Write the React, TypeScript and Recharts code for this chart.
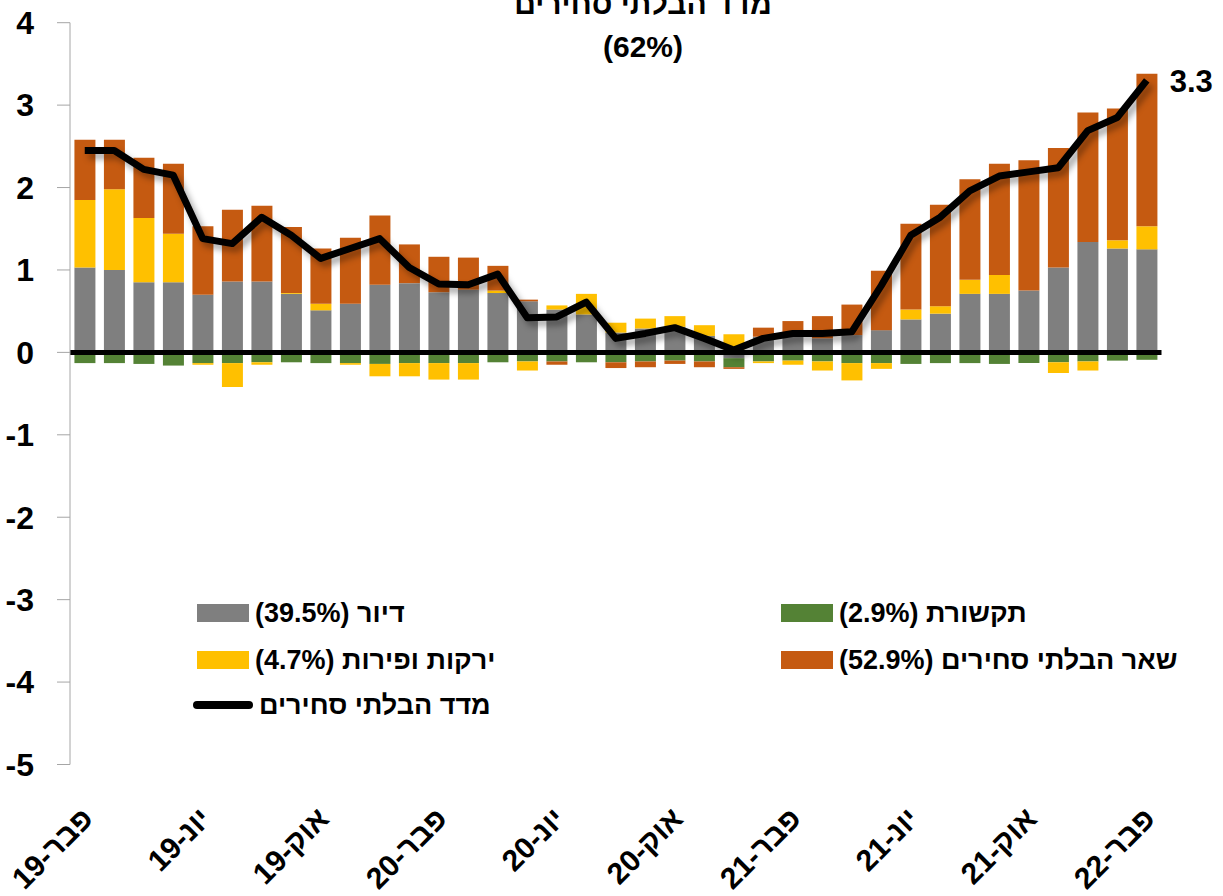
import React from "react";
import {
  ComposedChart,
  Bar,
  Line,
  XAxis,
  YAxis,
  ReferenceLine,
} from "recharts";

const FONT = "'Liberation Sans', Arial, sans-serif";

// months, Feb-19 .. Feb-22
const months = [
  "פבר-19", "מרץ-19", "אפר-19", "מאי-19", "יונ-19", "יול-19", "אוג-19", "ספט-19", "אוק-19", "נוב-19", "דצמ-19",
  "ינו-20", "פבר-20", "מרץ-20", "אפר-20", "מאי-20", "יונ-20", "יול-20", "אוג-20", "ספט-20", "אוק-20", "נוב-20", "דצמ-20",
  "ינו-21", "פבר-21", "מרץ-21", "אפר-21", "מאי-21", "יונ-21", "יול-21", "אוג-21", "ספט-21", "אוק-21", "נוב-21", "דצמ-21",
  "ינו-22", "פבר-22",
];

// contributions to the index (percentage points)
const housing = [
  1.03, 1.0, 0.85, 0.85, 0.7, 0.86, 0.86, 0.71, 0.51, 0.59, 0.82,
  0.84, 0.73, 0.76, 0.72, 0.62, 0.52, 0.46, 0.24, 0.29, 0.31, 0.2, -0.07,
  0.19, 0.23, 0.17, 0.21, 0.27, 0.4, 0.47, 0.71, 0.71, 0.75, 1.03, 1.34,
  1.26, 1.25,
];
const telecom = [
  -0.13, -0.13, -0.14, -0.16, -0.13, -0.13, -0.12, -0.12, -0.13, -0.13, -0.14,
  -0.13, -0.13, -0.13, -0.12, -0.11, -0.11, -0.12, -0.12, -0.11, -0.1, -0.11, -0.11,
  -0.11, -0.1, -0.11, -0.13, -0.13, -0.14, -0.13, -0.13, -0.14, -0.13, -0.12, -0.11,
  -0.1, -0.09,
];
const produce = [
  0.82, 0.98, 0.78, 0.59, -0.02, -0.29, -0.03, 0.01, 0.08, -0.02, -0.15,
  -0.16, -0.2, -0.2, 0.03, -0.11, 0.05, 0.25, 0.12, 0.12, 0.13, 0.13, 0.22,
  -0.02, -0.05, -0.11, -0.21, -0.07, 0.12, 0.09, 0.17, 0.23, 0, -0.13, -0.11,
  0.1, 0.28,
];
const otherNonTradable = [
  0.73, 0.6, 0.73, 0.85, 0.83, 0.87, 0.92, 0.8, 0.67, 0.8, 0.84,
  0.47, 0.43, 0.39, 0.3, 0.02, -0.04, 0, -0.07, -0.07, -0.04, -0.07, -0.02,
  0.11, 0.15, 0.27, 0.37, 0.72, 1.04, 1.23, 1.22, 1.35, 1.58, 1.45, 1.57,
  1.6, 1.85,
];
const nonTradableIndex = [
  2.45, 2.45, 2.22, 2.15, 1.38, 1.32, 1.64, 1.42, 1.14, 1.26, 1.38,
  1.03, 0.83, 0.82, 0.95, 0.42, 0.43, 0.61, 0.17, 0.23, 0.3, 0.17, 0.03,
  0.17, 0.23, 0.23, 0.25, 0.81, 1.42, 1.64, 1.96, 2.14, 2.19, 2.24, 2.69,
  2.85, 3.3,
];

const yTicks = [-5, -4, -3, -2, -1, 0, 1, 2, 3, 4];

const series = [
  { key: "housing", name: "דיור (39.5%)", color: "#7f7f7f" },
  { key: "telecom", name: "תקשורת (2.9%)", color: "#548235" },
  { key: "produce", name: "ירקות ופירות (4.7%)", color: "#ffc000" },
  { key: "other", name: "שאר הבלתי סחירים (52.9%)", color: "#c55a11" },
];

const data = months.map((m, i) => ({
  month: m,
  housing: housing[i],
  telecom: telecom[i],
  produce: produce[i],
  other: otherNonTradable[i],
  index: nonTradableIndex[i],
}));

function MonthTick(props: any) {
  const { x, y, payload } = props;
  const tx = x + 10;
  const ty = y + 48;
  return (
    <text
      x={tx}
      y={ty}
      textAnchor="end"
      transform={`rotate(-45 ${tx} ${ty})`}
      fontSize={30}
      fontWeight="bold"
      fontFamily={FONT}
      fill="#000"
    >
      {payload.value}
    </text>
  );
}

function EndLabel(props: any) {
  const { x, y, index, value } = props;
  if (index !== months.length - 1) return null;
  return (
    <text
      x={x + 23}
      y={y + 3}
      dominantBaseline="middle"
      fontSize={31}
      fontWeight="bold"
      fontFamily={FONT}
      fill="#000"
    >
      {Number(value).toFixed(1)}
    </text>
  );
}

function LegendRow({ left, top, color, name, line }: any) {
  return (
    <div style={{ position: "absolute", left, top, height: 30, display: "flex", alignItems: "center" }}>
      {line ? (
        <div style={{ width: 60, height: 8, borderRadius: 4, background: "#000", marginLeft: -4 }} />
      ) : (
        <div style={{ width: 52, height: 18, background: color }} />
      )}
      <span
        style={{
          direction: "rtl",
          marginLeft: 6,
          fontFamily: FONT,
          fontWeight: "bold",
          fontSize: 27,
          color: "#000",
          whiteSpace: "nowrap",
        }}
      >
        {name}
      </span>
    </div>
  );
}

export default function App() {
  return (
    <div style={{ position: "relative", width: 1223, height: 896, background: "#fff", overflow: "hidden" }}>
      <style>{`body{margin:0} .recharts-line-curve{filter:drop-shadow(4px 5px 3px rgba(0,0,0,0.35));}`}</style>
      <ComposedChart
        width={1223}
        height={896}
        data={data}
        stackOffset="sign"
        barCategoryGap="15%"
        margin={{ top: 22.7, right: 61.5, bottom: 21.5, left: 0 }}
      >
        <XAxis
          dataKey="month"
          interval={3}
          axisLine={false}
          tickLine={false}
          height={110}
          tick={<MonthTick />}
        />
        <YAxis
          domain={[-5, 4]}
          ticks={yTicks}
          width={70}
          tickSize={13}
          tickMargin={23}
          axisLine={{ stroke: "#a6a6a6" }}
          tickLine={{ stroke: "#a6a6a6" }}
          tick={{ fill: "#000", fontSize: 32, fontWeight: "bold", fontFamily: FONT }}
        />
        {series.map((s) => (
          <Bar key={s.key} dataKey={s.key} name={s.name} stackId="a" fill={s.color} isAnimationActive={false} />
        ))}
        <ReferenceLine y={0} stroke="#000" strokeWidth={5} />
        <Line
          dataKey="index"
          stroke="#000"
          strokeWidth={7}
          strokeLinejoin="round"
          dot={false}
          activeDot={false}
          type="linear"
          isAnimationActive={false}
          label={<EndLabel />}
        />
      </ComposedChart>

      <div
        style={{
          position: "absolute",
          left: 443,
          width: 400,
          top: -18,
          textAlign: "center",
          fontFamily: FONT,
          fontWeight: "bold",
          fontSize: 30,
          lineHeight: "43px",
          direction: "rtl",
        }}
      >
        <div>מדד הבלתי סחירים</div>
        <div>(62%)</div>
      </div>

      <LegendRow left={197} top={598} color={series[0].color} name={series[0].name} />
      <LegendRow left={781} top={598} color={series[1].color} name={series[1].name} />
      <LegendRow left={197} top={645} color={series[2].color} name={series[2].name} />
      <LegendRow left={781} top={645} color={series[3].color} name={series[3].name} />
      <LegendRow left={197} top={690} line name="מדד הבלתי סחירים" />
    </div>
  );
}
